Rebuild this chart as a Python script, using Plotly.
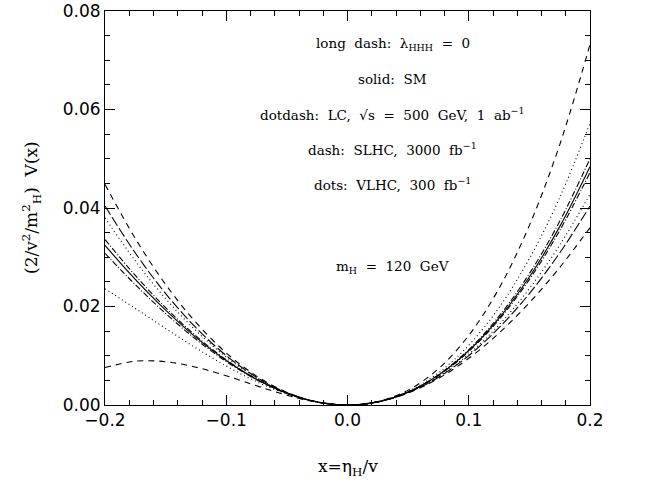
import plotly.graph_objects as go

# x grid (eta_H / v)
x_vals = [-0.2, -0.175, -0.15, -0.125, -0.1, -0.075, -0.05, -0.025, 0.0,
          0.025, 0.05, 0.075, 0.1, 0.125, 0.15, 0.175, 0.2]

# long dash: lambda_HHH = 0
v_lam0 = [0.0404, 0.03086, 0.02263, 0.01569, 0.01003, 0.00563, 0.00250, 0.00063, 0.0,
          0.00063, 0.00250, 0.00563, 0.01003, 0.01569, 0.02263, 0.03086, 0.0404]
# solid: SM
v_sm = [0.0324, 0.02550, 0.01925, 0.01373, 0.00903, 0.00521, 0.00238, 0.00061, 0.0,
        0.00064, 0.00263, 0.00606, 0.01103, 0.01764, 0.02600, 0.03622, 0.0484]
# dotdash: LC 500 GeV, 1 ab^-1 (two bounds)
v_lc_a = [0.0308, 0.02443, 0.01858, 0.01334, 0.00883, 0.00513, 0.00235, 0.00061, 0.0,
          0.00064, 0.00265, 0.00614, 0.01123, 0.01803, 0.02668, 0.03729, 0.0500]
v_lc_b = [0.0336, 0.02630, 0.01976, 0.01403, 0.00918, 0.00527, 0.00240, 0.00061, 0.0,
          0.00064, 0.00261, 0.00599, 0.01088, 0.01735, 0.02550, 0.03542, 0.0472]
# dash: SLHC 3000 fb^-1 (two bounds)
v_slhc_a = [0.0076, 0.00889, 0.00879, 0.00768, 0.00593, 0.00390, 0.00199, 0.00056, 0.0,
            0.00069, 0.00302, 0.00736, 0.01413, 0.02369, 0.03647, 0.05283, 0.0732]
v_slhc_b = [0.0448, 0.03381, 0.02448, 0.01676, 0.01058, 0.00587, 0.00257, 0.00063, 0.0,
            0.00062, 0.00243, 0.00540, 0.00948, 0.01461, 0.02077, 0.02791, 0.0360]
# dots: VLHC 300 fb^-1 (two bounds)
v_vlhc_a = [0.0236, 0.01960, 0.01554, 0.01158, 0.00793, 0.00475, 0.00224, 0.00059, 0.0,
            0.00066, 0.00277, 0.00652, 0.01213, 0.01979, 0.02972, 0.04211, 0.0572]
v_vlhc_b = [0.0380, 0.02925, 0.02161, 0.01510, 0.00973, 0.00551, 0.00247, 0.00062, 0.0,
            0.00063, 0.00254, 0.00576, 0.01033, 0.01627, 0.02364, 0.03247, 0.0428]

series = [
    (v_lam0, "10px,3px"),
    (v_sm, "solid"),
    (v_lc_a, "6px,2px,1px,2px"),
    (v_lc_b, "6px,2px,1px,2px"),
    (v_slhc_a, "6px,5px"),
    (v_slhc_b, "6px,5px"),
    (v_vlhc_a, "1px,3px"),
    (v_vlhc_b, "1px,3px"),
]

labels = [
    "long  dash:  λ<sub>HHH</sub>  =  0",
    "solid:  SM",
    "dotdash:  LC,  √s  =  500  GeV,  1  ab<sup>−1</sup>",
    "dash:  SLHC,  3000  fb<sup>−1</sup>",
    "dots:  VLHC,  300  fb<sup>−1</sup>",
]
label_y = [0.0733, 0.0662, 0.0591, 0.0520, 0.0449]
mass_label = "m<sub>H</sub>  =  120  GeV"

fig = go.Figure()
for vals, dash in series:
    fig.add_trace(go.Scatter(
        x=x_vals, y=vals, mode="lines",
        line=dict(color="black", width=1.1, dash=dash, shape="spline", smoothing=1.0),
        showlegend=False, hoverinfo="skip"))

serif = "DejaVu Serif"
for txt, yy in zip(labels, label_y):
    fig.add_annotation(x=0.0375, y=yy, text=txt, showarrow=False,
                       xanchor="center", yanchor="middle",
                       font=dict(family=serif, size=13.5, color="black"))
fig.add_annotation(x=0.0375, y=0.028, text=mass_label, showarrow=False,
                   xanchor="center", yanchor="middle",
                   font=dict(family=serif, size=13.5, color="black"))

fig.add_annotation(xref="paper", yref="paper", x=0.5, y=0, yshift=-62,
                   text="x=η<sub>H</sub>/v", showarrow=False,
                   xanchor="center", yanchor="middle",
                   font=dict(family=serif, size=17, color="black"))
fig.add_annotation(xref="paper", yref="paper", x=0, y=0.5, xshift=-74,
                   text="(2/v<sup>2</sup>/m<sup>2</sup><sub>H</sub>)  V(x)", showarrow=False,
                   textangle=-90, xanchor="center", yanchor="middle",
                   font=dict(family=serif, size=17, color="black"))

axis_common = dict(
    showline=True, linecolor="black", linewidth=1, mirror="ticks",
    ticks="inside", ticklen=10, tickwidth=1, tickcolor="black",
    showgrid=False, zeroline=False, automargin=False,
    ticklabeloverflow="allow",
    tickfont=dict(family="DejaVu Sans", size=17, color="black"),
)
fig.update_xaxes(range=[-0.2, 0.2], tickmode="linear", tick0=-0.2, dtick=0.1,
                 tickformat=".1f",
                 minor=dict(dtick=0.02, ticks="inside", ticklen=5, tickcolor="black", showgrid=False),
                 **axis_common)
fig.update_yaxes(range=[0, 0.08], tickmode="linear", tick0=0, dtick=0.02,
                 tickformat=".2f",
                 minor=dict(dtick=0.005, ticks="inside", ticklen=5, tickcolor="black", showgrid=False),
                 **axis_common)

fig.update_layout(
    width=649, height=495,
    margin=dict(l=105, r=59, t=11, b=90),
    plot_bgcolor="white", paper_bgcolor="white",
)

fig.write_html("out.html", config={"displayModeBar": False},
               post_script="document.body.style.margin='0px';")
